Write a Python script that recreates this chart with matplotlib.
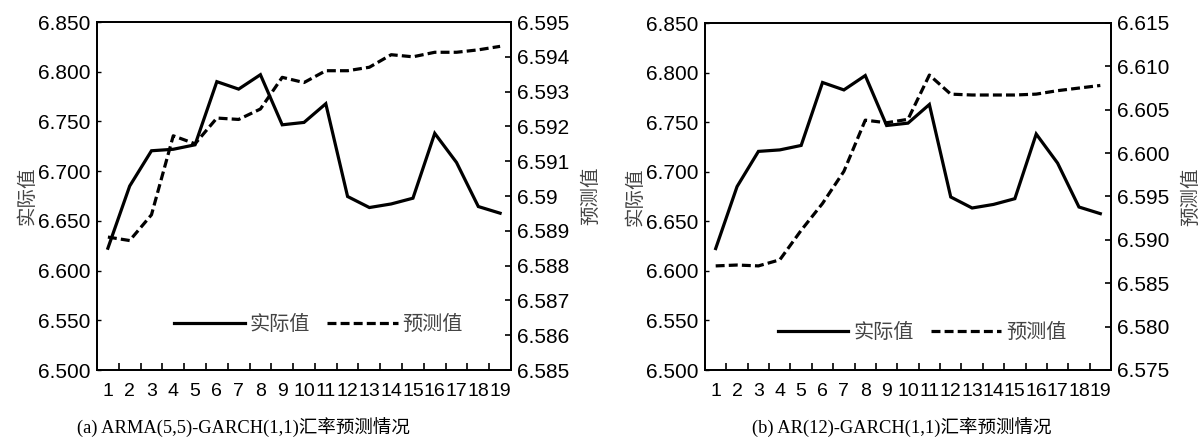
import numpy as np
import matplotlib
matplotlib.use('Agg')
import matplotlib.pyplot as plt
from matplotlib.lines import Line2D

plt.rcParams['font.family'] = ['Liberation Sans', 'Noto Sans CJK SC']

periods = list(range(1, 20))
# actual exchange rate (left axis), same in both panels
actual = [6.6225, 6.685, 6.7205, 6.722, 6.7265, 6.790, 6.7825, 6.797, 6.7466, 6.749,
          6.7678, 6.6745, 6.6634, 6.667, 6.6728, 6.738, 6.7087, 6.6644, 6.6577]
# ARMA(5,5)-GARCH(1,1) forecast (right axis)
pred_a = [6.58882, 6.58872, 6.58946, 6.59173, 6.5915, 6.59224, 6.5922, 6.5925, 6.59341, 6.59326,
          6.5936, 6.5936, 6.5937, 6.59406, 6.5940, 6.59413, 6.59413, 6.5942, 6.5943]
# AR(12)-GARCH(1,1) forecast (right axis)
pred_b = [6.5870, 6.5871, 6.5870, 6.5877, 6.5911, 6.5942, 6.5979, 6.6038, 6.6035, 6.6039,
          6.6090, 6.6068, 6.6067, 6.6067, 6.6067, 6.6068, 6.6072, 6.6075, 6.6078]

left_ticks = np.arange(6.500, 6.8501, 0.05)
right_a = np.arange(6.585, 6.5951, 0.001)
right_a_labels = ['6.585', '6.586', '6.587', '6.588', '6.589', '6.59',
                  '6.591', '6.592', '6.593', '6.594', '6.595']
right_b = np.arange(6.575, 6.6151, 0.005)
right_b_labels = ['%.3f' % v for v in right_b]

captions = ['(a) ARMA(5,5)-GARCH(1,1)汇率预测情况', '(b) AR(12)-GARCH(1,1)汇率预测情况']

fig = plt.figure(figsize=(12, 4.47), dpi=100)
boxes = [[97/1200, 77/447, 414/1200, 348/447], [705/1200, 77/447, 406/1200, 347/447]]
right_sets = [(right_a, right_a_labels, pred_a), (right_b, right_b_labels, pred_b)]
leg_pos = [(0.535, 0.13), (0.535, 0.107)]
cap_x = [243/1200, 902/1200]

cjk = ['Noto Sans CJK SC']
gray = '#444444'
dash = (2.8, 1.3)

for i in range(2):
    ax = fig.add_axes(boxes[i])
    ax2 = ax.twinx()
    rt, rl, pred = right_sets[i]
    ax.plot(periods, actual, color='black', lw=2.3, solid_joinstyle='miter')
    ax2.plot(periods, pred, color='black', lw=2.3, dashes=dash)

    ax.set_xlim(0.5, 19.5)
    ax.set_ylim(6.5, 6.85)
    ax.set_yticks(left_ticks)
    ax.set_yticklabels(['%.3f' % v for v in left_ticks])
    ax.set_xticks(periods)
    ax.set_xticklabels([str(p) for p in periods], fontsize=14)
    ax.set_xticks(np.arange(1.5, 19, 1), minor=True)
    ax.tick_params(axis='x', which='major', length=0, pad=9)
    ax.tick_params(axis='x', which='minor', direction='in', length=5, width=1.2)
    ax.tick_params(axis='y', direction='in', length=3, width=1.0, pad=5, labelsize=15)
    ax2.set_ylim(rt[0], rt[-1])
    ax2.set_yticks(rt)
    ax2.set_yticklabels(rl)
    ax2.tick_params(axis='y', direction='in', length=4, width=1.2, pad=4, labelsize=15)
    for a in (ax, ax2):
        for s in a.spines.values():
            s.set_linewidth(1.3)

    ax.set_ylabel('实际值', family=cjk, fontsize=14, color=gray, labelpad=0)
    ax2.set_ylabel('预测值', family=cjk, fontsize=14, color=gray, labelpad=8)

    handles = [Line2D([], [], color='black', lw=2.3),
               Line2D([], [], color='black', lw=2.3, dashes=dash)]
    leg = ax.legend(handles, ['实际值', '预测值'], loc='center', bbox_to_anchor=leg_pos[i],
                    ncol=2, frameon=False, handlelength=3.5, handletextpad=0.25,
                    columnspacing=0.85, prop={'family': cjk, 'size': 14.5})
    for t in leg.get_texts():
        t.set_color(gray)

    fig.text(cap_x[i], 0.042, captions[i], ha='center', va='center', fontsize=13.3,
             family=['Liberation Serif', 'Noto Sans CJK SC'])

fig.savefig('out.png', dpi=100)
